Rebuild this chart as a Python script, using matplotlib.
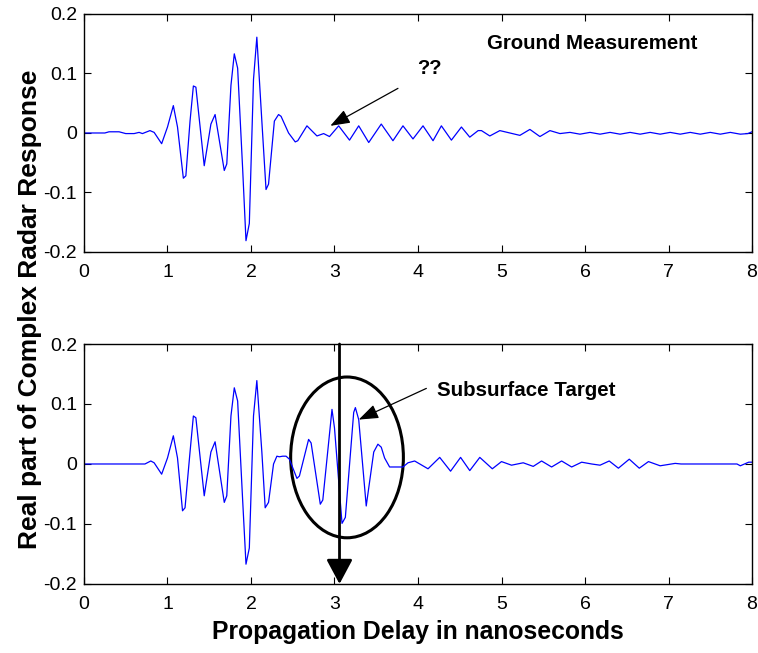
import matplotlib
matplotlib.use("Agg")
import matplotlib.pyplot as plt
from matplotlib.patches import Ellipse

plt.rcParams['font.family'] = ['Liberation Sans', 'DejaVu Sans']

t_sol = [0, 0.25, 0.30, 0.42, 0.50, 0.60, 0.66, 0.70, 0.79, 0.84, 0.93, 1.00, 1.07, 1.12,
         1.19, 1.22, 1.27, 1.31, 1.34, 1.44, 1.52, 1.57, 1.68, 1.71, 1.76, 1.80, 1.84, 1.90,
         1.94, 1.98, 2.03, 2.07, 2.13, 2.18, 2.21, 2.28, 2.33, 2.36, 2.45, 2.53, 2.56, 2.67,
         2.79, 2.87, 2.94, 3.05, 3.18, 3.29, 3.41, 3.56, 3.70, 3.82, 3.94, 4.06, 4.18, 4.28,
         4.40, 4.52, 4.62, 4.72, 4.76, 4.86, 4.98, 5.10, 5.22, 5.34, 5.46, 5.58, 5.70, 5.82,
         5.94, 6.06, 6.18, 6.30, 6.42, 6.54, 6.66, 6.78, 6.90, 7.02, 7.14, 7.26, 7.38, 7.50,
         7.62, 7.74, 7.86, 7.95, 8.0]
v_sol = [0, 0, 0.002, 0.002, -0.001, -0.001, 0.001, -0.001, 0.004, 0.001, -0.018, 0.010,
         0.046, 0.010, -0.076, -0.072, 0.020, 0.079, 0.077, -0.055, 0.015, 0.031, -0.063,
         -0.052, 0.080, 0.133, 0.109, -0.060, -0.181, -0.152, 0.090, 0.161, 0.020, -0.095,
         -0.086, 0.020, 0.031, 0.028, 0.0, -0.015, -0.013, 0.012, -0.005, -0.001, -0.006,
         0.012, -0.012, 0.012, -0.016, 0.015, -0.013, 0.012, -0.010, 0.012, -0.013, 0.012,
         -0.012, 0.010, -0.007, 0.004, 0.004, -0.005, 0.004, 0.0, -0.004, 0.006, -0.006,
         0.004, -0.001, 0.001, -0.002, 0.001, -0.002, 0.001, -0.002, 0.001, -0.002, 0.001,
         -0.002, 0.001, -0.002, 0.001, -0.002, 0.001, -0.002, 0.001, -0.002, -0.001, 0.002]

# avec cible enterrée (bas)
t_cible = [0, 0.73, 0.80, 0.84, 0.93, 1.00, 1.07, 1.12, 1.18, 1.21, 1.27, 1.31, 1.34, 1.44,
           1.52, 1.57, 1.68, 1.71, 1.76, 1.80, 1.84, 1.90, 1.94, 1.98, 2.03, 2.07, 2.13,
           2.17, 2.21, 2.27, 2.31, 2.34, 2.38, 2.42, 2.46, 2.55, 2.58, 2.69, 2.72, 2.83,
           2.86, 2.97, 3.00, 3.09, 3.13, 3.23, 3.25, 3.29, 3.38, 3.47, 3.52, 3.56, 3.60,
           3.66, 3.82, 3.88, 3.96, 4.12, 4.26, 4.39, 4.51, 4.62, 4.74, 4.89, 5.00, 5.12,
           5.26, 5.38, 5.48, 5.60, 5.72, 5.84, 5.96, 6.08, 6.18, 6.29, 6.40, 6.53, 6.65,
           6.76, 6.90, 7.08, 7.15, 7.82, 7.86, 7.96, 8.0]
v_cible = [0, 0, 0.005, 0.002, -0.017, 0.010, 0.047, 0.010, -0.078, -0.073, 0.020, 0.080,
           0.077, -0.053, 0.020, 0.037, -0.064, -0.053, 0.080, 0.127, 0.105, -0.060, -0.167,
           -0.140, 0.080, 0.139, 0.020, -0.073, -0.064, 0.0, 0.013, 0.012, 0.013, 0.013,
           0.008, -0.024, -0.020, 0.041, 0.035, -0.067, -0.060, 0.091, 0.060, -0.099,
           -0.089, 0.086, 0.094, 0.074, -0.070, 0.020, 0.033, 0.028, 0.010, -0.005, -0.005,
           0.002, 0.005, -0.008, 0.011, -0.012, 0.011, -0.011, 0.011, -0.008, 0.004, -0.002,
           0.002, -0.004, 0.005, -0.005, 0.005, -0.005, 0.003, 0.0, -0.002, 0.005, -0.007,
           0.008, -0.007, 0.004, -0.003, 0.001, 0.0, 0.0, -0.003, 0.003, 0.003]

xticks = [0, 1, 2, 3, 4, 5, 6, 7, 8]
yticks = [-0.2, -0.1, 0, 0.1, 0.2]
ytick_labels = ['-0.2', '-0.1', '0', '0.1', '0.2']

fig = plt.figure(figsize=(7.58, 6.53), dpi=100)
ax1 = fig.add_axes([0.1108, 0.6141, 0.8813, 0.3645])
ax2 = fig.add_axes([0.1108, 0.1057, 0.8813, 0.3675])

for ax, t, v in [(ax1, t_sol, v_sol), (ax2, t_cible, v_cible)]:
    ax.plot(t, v, color='#0000ff', lw=0.9)
    ax.set_xlim(0, 8)
    ax.set_ylim(-0.2, 0.2)
    ax.set_xticks(xticks)
    ax.set_yticks(yticks)
    ax.set_yticklabels(ytick_labels)
    ax.tick_params(direction='in', top=True, right=True, length=5, width=0.8,
                   labelsize=14)
    ax.tick_params(axis='x', pad=9)
    ax.tick_params(axis='y', pad=5)
    for s in ax.spines.values():
        s.set_linewidth(1.0)

# annotations du haut
ax1.text(4.83, 0.150, 'Ground Measurement', fontsize=14.7, fontweight='bold', va='center')
ax1.text(3.99, 0.109, '??', fontsize=14.5, fontweight='bold', va='center')
ax1.annotate('', xy=(2.95, 0.012), xytext=(3.76, 0.075),
             arrowprops=dict(arrowstyle='-|>,head_length=0.6,head_width=0.22',
                             color='black', lw=0.9, mutation_scale=20, shrinkA=0, shrinkB=0))

# annotations du bas
ax2.text(4.23, 0.123, 'Subsurface Target', fontsize=14.8, fontweight='bold', va='center')
ax2.annotate('', xy=(3.29, 0.074), xytext=(4.10, 0.126),
             arrowprops=dict(arrowstyle='-|>,head_length=0.6,head_width=0.22',
                             color='black', lw=0.9, mutation_scale=20, shrinkA=0, shrinkB=0))
ax2.add_patch(Ellipse((3.15, 0.011), 1.35, 0.268, fill=False, edgecolor='black', lw=2.2))
ax2.annotate('', xy=(3.06, -0.2), xytext=(3.06, 0.2),
             arrowprops=dict(arrowstyle='-|>,head_length=0.75,head_width=0.4',
                             color='black', lw=2, mutation_scale=20, shrinkA=0, shrinkB=0),
             annotation_clip=False)

fig.text(0.040, 0.527, 'Real part of Complex Radar Response', rotation=90,
         fontsize=19, fontweight='bold', ha='center', va='center')
ax2.set_xlabel('Propagation Delay in nanoseconds', fontsize=17.8, fontweight='bold', labelpad=5)

fig.savefig('out.png', dpi=100)
